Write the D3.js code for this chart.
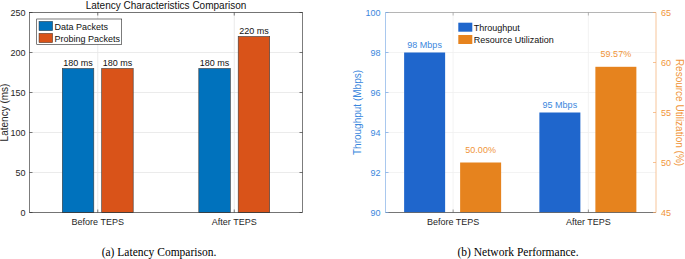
<!DOCTYPE html>
<html><head><meta charset="utf-8">
<script src="https://cdn.jsdelivr.net/npm/d3@7"></script>
<style>body{margin:0;background:#fff}svg{display:block}text{font-family:"Liberation Sans",Arial,sans-serif}text.cap{font-family:"Liberation Serif","Times New Roman",serif}</style>
</head><body>
<svg id="c" width="685" height="259"></svg>
<script>
const categories = ["Before TEPS", "After TEPS"];
const latencySeries = ["Data Packets", "Probing Packets"];
const dataPackets = [180, 180];
const probingPackets = [180, 220];
const latencyTicks = [0, 50, 100, 150, 200, 250];
const perfSeries = ["Throughput", "Resource Utilization"];
const throughput = [98, 95];
const throughputLabels = ["98 Mbps", "95 Mbps"];
const utilization = [50.00, 59.57];
const utilizationLabels = ["50.00%", "59.57%"];
const throughputTicks = [90, 92, 94, 96, 98, 100];
const utilTicks = [45, 50, 55, 60, 65];

const svg = d3.select("#c");
const axisCol = "#262626";

// ---------- Chart (a) ----------
{
  const L = 29.5, R = 302.5, T = 12.5, B = 212.5;
  const g = svg.append("g");
  const x = d3.scaleLinear().domain([0.5, 2.5]).range([L, R]);
  const y = d3.scaleLinear().domain([0, 250]).range([B, T]);
  g.selectAll(".hg").data(latencyTicks).enter().append("line")
    .attr("x1", L).attr("x2", R).attr("y1", d => y(d)).attr("y2", d => y(d))
    .attr("stroke", "#e6e6e6").attr("stroke-width", 0.8);
  g.selectAll(".vg").data(categories).enter().append("line")
    .attr("x1", (d, i) => x(i + 1)).attr("x2", (d, i) => x(i + 1)).attr("y1", T).attr("y2", B)
    .attr("stroke", "#e6e6e6").attr("stroke-width", 0.8);
  const bw = 31.5, off = 19.7;
  const cols = ["#0072BD", "#D95319"];
  [dataPackets, probingPackets].forEach((vals, s) => {
    vals.forEach((v, i) => {
      const cx = x(i + 1) + (s === 0 ? -off : off);
      g.append("rect").attr("x", cx - bw / 2).attr("y", y(v)).attr("width", bw).attr("height", y(0) - y(v))
        .attr("fill", cols[s]).attr("stroke", "#3a3a3a").attr("stroke-width", 0.6);
      g.append("text").attr("x", cx).attr("y", y(v) - 3).attr("text-anchor", "middle")
        .attr("font-size", 9).attr("fill", "#111").text(v + " ms");
    });
  });
  g.append("rect").attr("x", L).attr("y", T).attr("width", R - L).attr("height", B - T)
    .attr("fill", "none").attr("stroke", axisCol).attr("stroke-width", 0.6);
  latencyTicks.forEach(t => {
    g.append("line").attr("x1", L).attr("x2", L + 3).attr("y1", y(t)).attr("y2", y(t)).attr("stroke", axisCol).attr("stroke-width", 0.6);
    g.append("line").attr("x1", R).attr("x2", R - 3).attr("y1", y(t)).attr("y2", y(t)).attr("stroke", axisCol).attr("stroke-width", 0.6);
    g.append("text").attr("x", L - 4).attr("y", y(t) + 3.2).attr("text-anchor", "end").attr("font-size", 9).attr("fill", axisCol).text(t);
  });
  categories.forEach((c, i) => {
    g.append("line").attr("x1", x(i + 1)).attr("x2", x(i + 1)).attr("y1", B).attr("y2", B - 3).attr("stroke", axisCol).attr("stroke-width", 0.6);
    g.append("line").attr("x1", x(i + 1)).attr("x2", x(i + 1)).attr("y1", T).attr("y2", T + 3).attr("stroke", axisCol).attr("stroke-width", 0.6);
    g.append("text").attr("x", x(i + 1)).attr("y", B + 12).attr("text-anchor", "middle").attr("font-size", 9).attr("fill", axisCol).text(c);
  });
  g.append("text").attr("x", (L + R) / 2).attr("y", 8.5).attr("text-anchor", "middle").attr("font-size", 10).attr("fill", "#111").text("Latency Characteristics Comparison");
  g.append("text").attr("transform", `translate(8,${(T + B) / 2}) rotate(-90)`).attr("text-anchor", "middle").attr("font-size", 10).attr("fill", axisCol).text("Latency (ms)");
  g.append("rect").attr("x", 36.7).attr("y", 19).attr("width", 85).attr("height", 25.3).attr("fill", "#fff").attr("stroke", axisCol).attr("stroke-width", 0.6);
  latencySeries.forEach((s, i) => {
    g.append("rect").attr("x", 39).attr("y", 21.3 + i * 12).attr("width", 13.7).attr("height", 9.4).attr("fill", cols[i]).attr("stroke", "#3a3a3a").attr("stroke-width", 0.5);
    g.append("text").attr("x", 54.5).attr("y", 29.5 + i * 12).attr("font-size", 9).attr("fill", "#111").text(s);
  });
  svg.append("text").attr("class", "cap").attr("x", 159).attr("y", 256).attr("text-anchor", "middle")
    .attr("font-size", 11.5).attr("fill", "#000").text("(a)  Latency Comparison.");
}

// ---------- Chart (b) ----------
{
  const L = 385.5, R = 656, T = 12.5, B = 212.5;
  const g = svg.append("g");
  const x = d3.scaleLinear().domain([0.5, 2.5]).range([L, R]);
  const yL = d3.scaleLinear().domain([90, 100]).range([B, T]);
  const yR = d3.scaleLinear().domain([45, 65]).range([B, T]);
  const blue = "#1F66CC", orange = "#E6831E", blueTxt = "#3B87DD", orangeTxt = "#F0953A";
  throughputTicks.forEach(t => {
    g.append("line").attr("x1", L).attr("x2", R).attr("y1", yL(t)).attr("y2", yL(t)).attr("stroke", "#f0f0f0").attr("stroke-width", 0.8);
  });
  categories.forEach((c, i) => {
    g.append("line").attr("x1", x(i + 1)).attr("x2", x(i + 1)).attr("y1", T).attr("y2", B).attr("stroke", "#f0f0f0").attr("stroke-width", 0.8);
  });
  const bw = 41, offL = -28.5, offR = 27.5;
  throughput.forEach((v, i) => {
    const cx = x(i + 1) + offL;
    g.append("rect").attr("x", cx - bw / 2).attr("y", yL(v)).attr("width", bw).attr("height", yL(90) - yL(v)).attr("fill", blue);
    g.append("text").attr("x", cx).attr("y", yL(v) - 5).attr("text-anchor", "middle").attr("font-size", 9).attr("fill", blueTxt).text(throughputLabels[i]);
  });
  utilization.forEach((v, i) => {
    const cx = x(i + 1) + offR;
    g.append("rect").attr("x", cx - bw / 2).attr("y", yR(v)).attr("width", bw).attr("height", yR(45) - yR(v)).attr("fill", orange);
    g.append("text").attr("x", cx).attr("y", yR(v) - 10).attr("text-anchor", "middle").attr("font-size", 9).attr("fill", orangeTxt).text(utilizationLabels[i]);
  });
  g.append("line").attr("x1", L).attr("x2", R).attr("y1", T).attr("y2", T).attr("stroke", "#8c8c8c").attr("stroke-width", 0.6);
  g.append("line").attr("x1", L).attr("x2", R).attr("y1", B).attr("y2", B).attr("stroke", "#555").attr("stroke-width", 0.8);
  g.append("line").attr("x1", L).attr("x2", L).attr("y1", T).attr("y2", B).attr("stroke", "#A9C8EE").attr("stroke-width", 1);
  g.append("line").attr("x1", R).attr("x2", R).attr("y1", T).attr("y2", B).attr("stroke", "#F7C59A").attr("stroke-width", 1);
  throughputTicks.forEach(t => {
    g.append("line").attr("x1", L).attr("x2", L + 3).attr("y1", yL(t)).attr("y2", yL(t)).attr("stroke", "#6FA0E4").attr("stroke-width", 0.7);
    g.append("text").attr("x", L - 5).attr("y", yL(t) + 3.2).attr("text-anchor", "end").attr("font-size", 9).attr("fill", blueTxt).text(t);
  });
  utilTicks.forEach(t => {
    g.append("line").attr("x1", R).attr("x2", R - 3).attr("y1", yR(t)).attr("y2", yR(t)).attr("stroke", "#F3A865").attr("stroke-width", 0.7);
    g.append("text").attr("x", R + 5).attr("y", yR(t) + 3.2).attr("text-anchor", "start").attr("font-size", 9).attr("fill", orangeTxt).text(t);
  });
  categories.forEach((c, i) => {
    g.append("line").attr("x1", x(i + 1)).attr("x2", x(i + 1)).attr("y1", B).attr("y2", B - 3).attr("stroke", "#555").attr("stroke-width", 0.6);
    g.append("line").attr("x1", x(i + 1)).attr("x2", x(i + 1)).attr("y1", T).attr("y2", T + 3).attr("stroke", "#8c8c8c").attr("stroke-width", 0.6);
    g.append("text").attr("x", x(i + 1)).attr("y", B + 12).attr("text-anchor", "middle").attr("font-size", 9).attr("fill", axisCol).text(c);
  });
  g.append("text").attr("transform", `translate(361,${(T + B) / 2}) rotate(-90)`).attr("text-anchor", "middle").attr("font-size", 10).attr("fill", blueTxt).text("Throughput (Mbps)");
  g.append("text").attr("transform", `translate(676,${(T + B) / 2}) rotate(90)`).attr("text-anchor", "middle").attr("font-size", 10).attr("fill", orangeTxt).text("Resource Utilization (%)");
  perfSeries.forEach((s, i) => {
    g.append("rect").attr("x", 458.3).attr("y", 22.7 + i * 12.3).attr("width", 14).attr("height", 9).attr("fill", i === 0 ? blue : orange);
    g.append("text").attr("x", 473.8).attr("y", 30.8 + i * 12.3).attr("font-size", 9).attr("fill", "#111").text(s);
  });
  svg.append("text").attr("class", "cap").attr("x", 518).attr("y", 256).attr("text-anchor", "middle")
    .attr("font-size", 11.5).attr("fill", "#000").text("(b)  Network Performance.");
}
</script>
</body></html>
